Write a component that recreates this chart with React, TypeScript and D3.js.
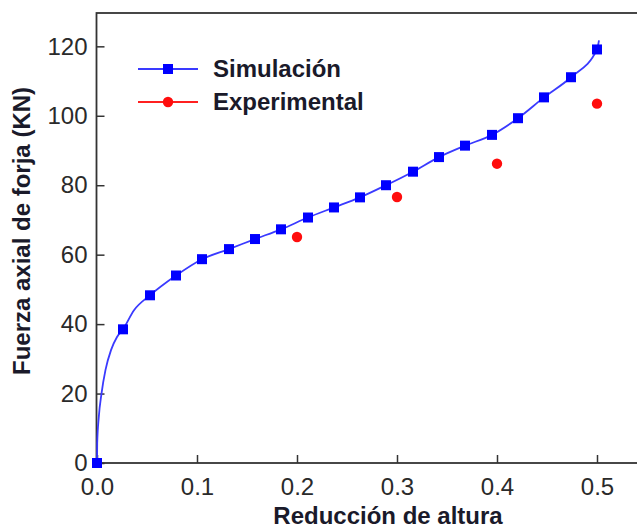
import { useEffect, useRef } from "react";
import * as d3 from "d3";

// reducción de altura (x) and force in KN (y)
const simX = [
  0, 0.026, 0.053, 0.079, 0.105, 0.132, 0.158, 0.184, 0.211, 0.237, 0.263,
  0.289, 0.316, 0.342, 0.368, 0.395, 0.421, 0.447, 0.474, 0.5,
];
const simY = [
  0, 38.5, 48.3, 54.0, 58.7, 61.6, 64.5, 67.3, 70.7, 73.6, 76.5, 80.0, 83.9,
  88.1, 91.4, 94.5, 99.3, 105.3, 111.1, 119.1,
];
// denser simulation curve (the solid line)
const curveX = [
  0, 0.0002, 0.0018, 0.0045, 0.0085, 0.014, 0.02, 0.026, 0.037, 0.053, 0.079,
  0.105, 0.132, 0.158, 0.184, 0.211, 0.237, 0.263, 0.289, 0.316, 0.342, 0.368,
  0.395, 0.421, 0.447, 0.474, 0.5, 0.502,
];
const curveY = [
  0, 5.7, 13.3, 20, 26.8, 32.5, 36.3, 38.5, 44, 48.3, 54.0, 58.7, 61.6, 64.5,
  67.3, 70.7, 73.6, 76.5, 80.0, 83.9, 88.1, 91.4, 94.5, 99.3, 105.3, 111.1,
  119.1, 121.7,
];
const expX = [0.2, 0.3, 0.4, 0.5];
const expY = [65.1, 76.6, 86.2, 103.5];

const xTicks = [0, 0.1, 0.2, 0.3, 0.4, 0.5];
const yTicks = [0, 20, 40, 60, 80, 100, 120];
const seriesNames = ["Simulación", "Experimental"];

const width = 637;
const height = 529;
const left = 96.5;
const right = 640;
const top = 13;
const bottom = 463;

const font = "'Liberation Sans', Arial, Helvetica, sans-serif";

export default function App() {
  const gx = useRef<SVGGElement | null>(null);
  const gy = useRef<SVGGElement | null>(null);

  const x = d3.scaleLinear().domain([-0.0005, 0.543]).range([left, right]);
  const y = d3.scaleLinear().domain([0, 129.6]).range([bottom, top]);

  useEffect(() => {
    if (gx.current) {
      const g = d3.select(gx.current);
      g.call(
        d3
          .axisBottom(x)
          .tickValues(xTicks)
          .tickFormat(d3.format(".1f") as any)
          .tickSizeInner(-8)
          .tickSizeOuter(0)
          .tickPadding(15)
      );
      g.select(".domain").remove();
      g.selectAll("line").attr("stroke", "#333").attr("stroke-width", 1.5);
      g.selectAll("text")
        .attr("fill", "#2a2a2a")
        .style("font-size", "24px")
        .style("font-family", font);
    }
    if (gy.current) {
      const g = d3.select(gy.current);
      g.call(
        d3
          .axisLeft(y)
          .tickValues(yTicks)
          .tickSizeInner(-8)
          .tickSizeOuter(0)
          .tickPadding(9)
      );
      g.select(".domain").remove();
      g.selectAll("line").attr("stroke", "#333").attr("stroke-width", 1.5);
      g.selectAll("text")
        .attr("fill", "#2a2a2a")
        .style("font-size", "24px")
        .style("font-family", font);
    }
  }, [x, y]);

  const line = d3
    .line<number>()
    .x((_, i) => x(curveX[i]))
    .y((d) => y(d))
    .curve(d3.curveMonotoneX);

  return (
    <svg
      width={width}
      height={height}
      style={{ position: "absolute", left: 0, top: 0, background: "#fff" }}
    >
      <rect
        x={left}
        y={top}
        width={right - left}
        height={bottom - top}
        fill="none"
        stroke="#333"
        strokeWidth={1.8}
      />
      <g ref={gx} transform={`translate(0,${bottom})`} />
      <g ref={gy} transform={`translate(${left},0)`} />

      <path d={line(curveY) ?? ""} fill="none" stroke="#3a3aff" strokeWidth={1.8} />
      {simY.map((v, i) => (
        <rect
          key={i}
          x={x(simX[i]) - 5}
          y={y(v) - 5}
          width={10}
          height={10}
          fill="#0000ff"
        />
      ))}
      {expY.map((v, i) => (
        <circle key={i} cx={x(expX[i])} cy={y(v)} r={5.2} fill="#ff0d0d" />
      ))}

      {/* legend */}
      <g fontFamily={font} fontWeight="bold" fontSize={24} fill="#1a1a2a">
        <line x1={138} x2={198} y1={69} y2={69} stroke="#3a3aff" strokeWidth={1.8} />
        <rect x={163} y={64} width={10} height={10} fill="#0000ff" />
        <text x={213} y={77}>{seriesNames[0]}</text>
        <line x1={138} x2={198} y1={102} y2={102} stroke="#ff2020" strokeWidth={1.8} />
        <circle cx={168} cy={102} r={5.2} fill="#ff0d0d" />
        <text x={213} y={110}>{seriesNames[1]}</text>
      </g>

      <text
        x={388}
        y={524}
        textAnchor="middle"
        fontFamily={font}
        fontWeight="bold"
        fontSize={24}
        fill="#1a1a2a"
      >
        Reducción de altura
      </text>
      <text
        transform="translate(30,231) rotate(-90)"
        textAnchor="middle"
        fontFamily={font}
        fontWeight="bold"
        fontSize={24}
        fill="#1a1a2a"
      >
        Fuerza axial de forja (KN)
      </text>
    </svg>
  );
}
